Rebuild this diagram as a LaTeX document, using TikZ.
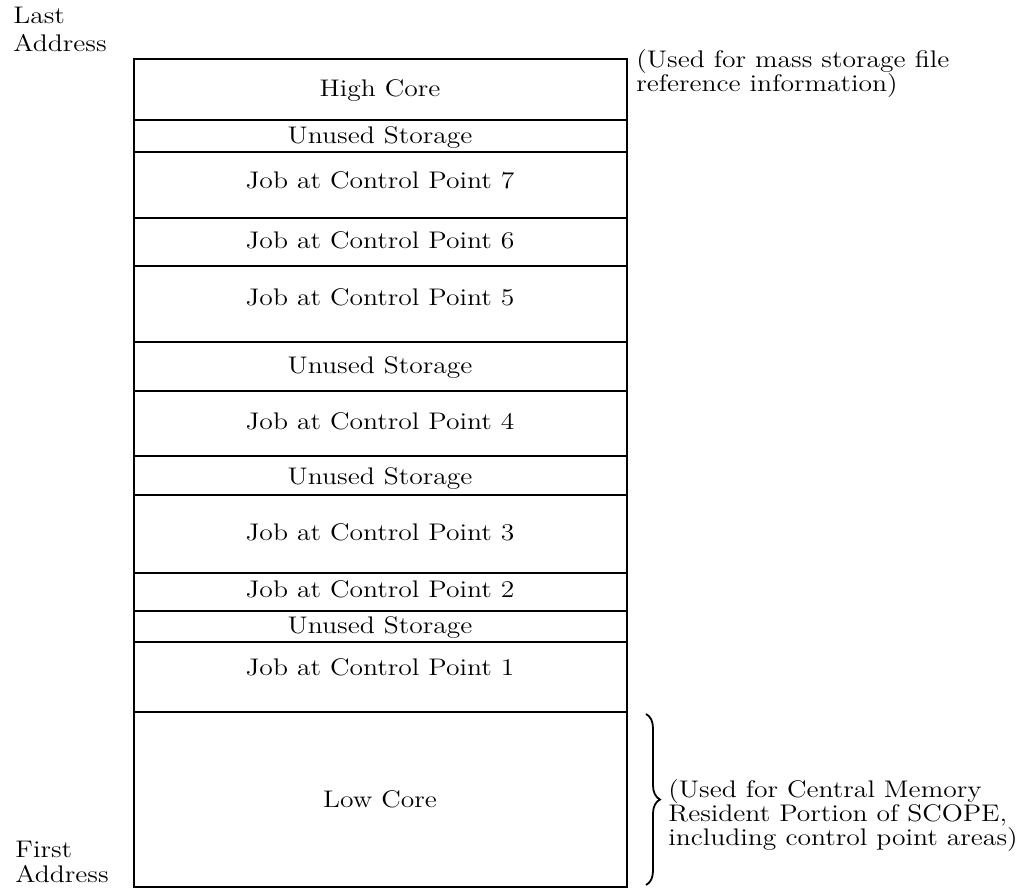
\documentclass[tikz,border=0pt]{standalone}
\usepackage{graphicx}
\usetikzlibrary{decorations.pathreplacing}
\newcommand{\widetxt}[1]{\scalebox{1.15}[1]{#1}}
\begin{document}
\begin{tikzpicture}[x = 0.5pt, y = -0.5pt,
        memtext/.style = {font = \fontsize{12}{13}\selectfont, inner sep = 0pt},
        memline/.style = {line width = 1pt},
        notetext/.style = {memtext, anchor = base west}]
    \useasboundingbox (0, 0) rectangle (1029, 890);

    % memory map
    \draw [memline] (134, 59) rectangle (627, 887);
    \foreach \yy in {120, 152, 218, 266, 342, 391, 456, 495, 573, 611, 642, 712}
        \draw [memline] (134, \yy) -- (627, \yy);

    \foreach \name/\yy/\txt in {hc/96/High Core, usa/143/Unused Storage,
            cpg/188/Job at Control Point 7, cpf/248/Job at Control Point 6,
            cpe/305/Job at Control Point 5, usb/373/Unused Storage,
            cpd/429/Job at Control Point 4, usc/484/Unused Storage,
            cpc/540/Job at Control Point 3, cpb/597/Job at Control Point 2,
            usd/633/Unused Storage, cpa/675/Job at Control Point 1,
            lc/807/Low Core}
        \node [memtext, anchor = base] (\name) at (380, \yy) {\widetxt{\txt}};

    % addresses
    \node [notetext] (last) at (13, 23) {\widetxt{Last}};
    \node [notetext] (lastaddr) at (13, 51) {\widetxt{Address}};
    \node [notetext] (first) at (15, 857) {\widetxt{First}};
    \node [notetext] (firstaddr) at (15, 882) {\widetxt{Address}};

    % notes
    \node [notetext] (massa) at (636, 67) {\widetxt{(Used for mass storage file}};
    \node [notetext] (massb) at (636, 91) {\widetxt{reference information)}};

    \coordinate (bracetop) at (646, 714);
    \coordinate (bracebot) at (646, 885);
    \draw [line width = 0.9pt, decorate, decoration = {brace, amplitude = 7pt}]
        (bracetop) -- (bracebot);

    \node [notetext] (cma) at (668, 797) {\widetxt{(Used for Central Memory}};
    \node [notetext] (cmb) at (668, 821) {\widetxt{Resident Portion of SCOPE,}};
    \node [notetext] (cmc) at (668, 845) {\widetxt{including control point areas)}};
\end{tikzpicture}
\end{document}
